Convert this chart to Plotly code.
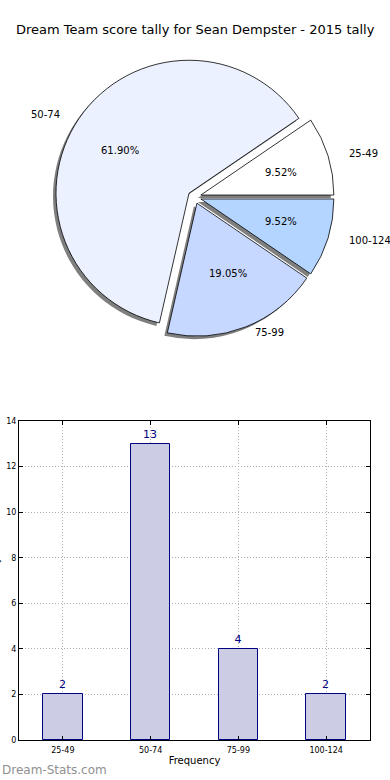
import numpy as np
import plotly.graph_objects as go

# ---- data ----
categories = ["25-49", "50-74", "75-99", "100-124"]
counts = [2, 13, 4, 2]
pie_colors = ["#ffffff", "#ebf1ff", "#c6d8ff", "#b4d5ff"]
y_ticks = [0, 2, 4, 6, 8, 10, 12, 14]

W, H = 390, 780
title_text = "Dream Team score tally for Sean Dempster - 2015 tally"

# pie geometry (pixels)
cx, cy = 194.5, 197.0
r = 133.0
pull = 0.05
rx_txt, ry_txt = 139.0, 127.0
box = 2 * r * (1 + pull)

total = float(sum(counts))
# matplotlib-style start at 3 o'clock, counterclockwise
rotation = 90.0 - counts[0] / total * 360.0


def pie_domain(dx=0.0, dy=0.0):
    return dict(
        x=[(cx + dx - box / 2) / W, (cx + dx + box / 2) / W],
        y=[(H - cy - dy - box / 2) / H, (H - cy - dy + box / 2) / H],
    )


fig = go.Figure()

# shadow
fig.add_trace(go.Pie(
    labels=categories, values=counts, sort=False, direction="counterclockwise",
    rotation=rotation, pull=[pull] * len(counts), textinfo="none", hoverinfo="skip",
    marker=dict(colors=["rgba(0,0,0,0.5)"] * len(counts), line=dict(width=0)),
    domain=pie_domain(-3, 3), showlegend=False,
))
# main pie
fig.add_trace(go.Pie(
    labels=categories, values=counts, sort=False, direction="counterclockwise",
    rotation=rotation, pull=[pull] * len(counts), textinfo="none",
    marker=dict(colors=pie_colors, line=dict(color="#000000", width=0.8)),
    domain=pie_domain(), showlegend=False,
))

# text annotations for pie (matplotlib style: pct at 0.6, labels at 1.1, + explode)
cum = np.cumsum(counts)
annotations = []
for cat, v, c in zip(categories, counts, cum):
    mid = np.deg2rad((c - v / 2.0) / total * 360.0)
    ca, sa = np.cos(mid), np.sin(mid)
    px = cx + (0.6 + pull) * rx_txt * ca
    py = cy - (0.6 + pull) * ry_txt * sa
    annotations.append(dict(
        x=px / W, y=1 - py / H, xref="paper", yref="paper", showarrow=False,
        text=f"{v / total * 100:.2f}%", xanchor="center", yanchor="middle",
        font=dict(size=10, color="#000000"),
    ))
    lx = cx + (1.1 + pull) * rx_txt * ca
    ly = cy - (1.1 + pull) * ry_txt * sa
    annotations.append(dict(
        x=lx / W, y=1 - ly / H, xref="paper", yref="paper", showarrow=False,
        text=cat, xanchor="left" if ca > 0 else "right", yanchor="middle",
        font=dict(size=10, color="#000000"),
    ))

# bar chart
fig.add_trace(go.Bar(
    x=categories, y=counts, xaxis="x", yaxis="y", width=0.45,
    marker=dict(color="#ccccE5", line=dict(color="#000080", width=1)),
    text=[str(v) for v in counts], textposition="outside",
    textfont=dict(size=11, color="#000080"), cliponaxis=False, showlegend=False,
))

annotations.append(dict(
    x=0.5, y=1 - 30 / H, xref="paper", yref="paper", showarrow=False,
    text=title_text, xanchor="center", yanchor="middle",
    font=dict(size=13, color="#000000"),
))
annotations.append(dict(
    x=-5 / W, y=1 - 580 / H, xref="paper", yref="paper", showarrow=False,
    text="Games Played", textangle=-90, xanchor="center", yanchor="middle",
    font=dict(size=10, color="#000000"),
))
annotations.append(dict(
    x=0, y=1 - 770 / H, xref="paper", yref="paper", showarrow=False,
    text="Dream-Stats.com", xanchor="left", yanchor="middle",
    font=dict(size=12, color="#909090"),
))

grid_style = dict(showgrid=True, gridcolor="#b0b0b0", griddash="1px,2px", gridwidth=1)

fig.update_layout(
    width=W, height=H, margin=dict(l=0, r=0, t=0, b=0, autoexpand=False),
    paper_bgcolor="white", plot_bgcolor="white",
    font=dict(family="DejaVu Sans", color="#000000"),
    annotations=annotations, bargap=0,
    xaxis=dict(
        domain=[19 / W, 370 / W], range=[-0.5, 3.5], type="category",
        showline=True, linecolor="#000000", linewidth=1, mirror="ticks",
        ticks="inside", ticklen=4, tickcolor="#000000", ticklabelstandoff=2,
        tickfont=dict(size=8), title=dict(text="Frequency", font=dict(size=10), standoff=3),
        zeroline=False, fixedrange=True, automargin=False, **grid_style,
    ),
    yaxis=dict(
        domain=[40 / H, 359 / H], range=[0, 14], tickvals=y_ticks,
        showline=True, linecolor="#000000", linewidth=1, mirror="ticks",
        ticks="inside", ticklen=4, tickcolor="#000000",
        tickfont=dict(size=8), zeroline=False, fixedrange=True, automargin=False, **grid_style,
    ),
)

fig.write_html(
    "out.html",
    config={"displayModeBar": False},
    post_script="document.body.style.margin='0';",
)
